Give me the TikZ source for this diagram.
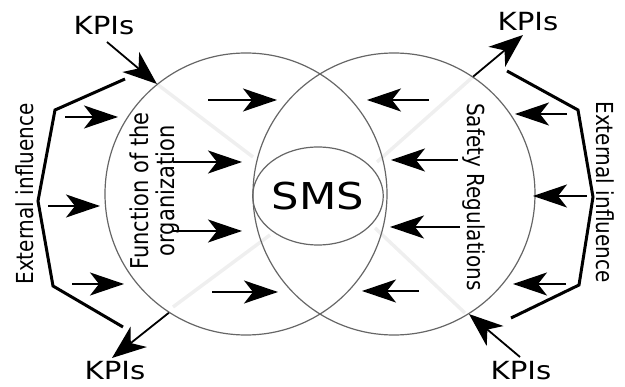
\documentclass[tikz,border=0pt]{standalone}
\usepackage{fontspec}
\setmainfont{DejaVu Sans}
\usetikzlibrary{arrows.meta,shapes.geometric,backgrounds}
\definecolor{ring}{HTML}{666666}
\definecolor{haze}{HTML}{EFEFEF}
\newcommand{\wide}[1]{\scalebox{1.17}[1]{#1}}
\newcommand{\tall}[1]{\scalebox{1}[1.17]{#1}}
\tikzset{
  circ/.style={circle, draw=ring, line width=1.2pt, minimum size=282pt, inner sep=0pt},
  core/.style={ellipse, draw=ring, line width=1.2pt, minimum width=130pt,
               minimum height=98pt, inner sep=0pt, font=\fontsize{37}{37}\selectfont},
  kpi/.style={font=\fontsize{25}{25}\selectfont, inner sep=0pt},
  side/.style={font=\fontsize{20}{20.5}\selectfont, inner sep=0pt},
  push/.style={-{Stealth[length=34pt,width=23pt,inset=9pt]}, line width=1.8pt},
  flow/.style={-{Stealth[length=34pt,width=26pt,inset=10pt]}, line width=1.8pt},
  brace/.style={line width=3pt},
  glow/.style={draw=haze, line width=3.5pt}
}

\begin{document}
\begin{tikzpicture}[x=1pt,y=-1pt]
\useasboundingbox (0,0) rectangle (625,387);

\node[circ] (org) at (246,194) {};
\node[circ] (reg) at (394,194) {};
\node[core] (sms) at (318,196) {\wide{SMS}};

% faint traces towards the core
\begin{scope}[on background layer]
\draw[glow] (org.129) -- (253,157);
\draw[glow] (reg.56) -- (377,162);
\draw[glow] (173,307) -- (270,235);
\draw[glow] (465,313) -- (375,228);
\end{scope}

\node[kpi] (kpitl) at (104,26) {\wide{KPIs}};
\node[kpi] (kpitr) at (528,22) {\wide{KPIs}};
\node[kpi] (kpibl) at (115,371) {\wide{KPIs}};
\node[kpi] (kpibr) at (521,371) {\wide{KPIs}};

\node[side, rotate=90] (extl) at (25,194) {\tall{External influence}};
\node[side, rotate=-90] (extr) at (605,192) {\tall{External influence}};
\node[side, rotate=90, font=\fontsize{21}{20.5}\selectfont] (func) at (156,191)
  {\tall{\begin{tabular}{@{}c@{}}Function of the\\organization\end{tabular}}};
\node[side, rotate=-90] (safe) at (474,197) {\tall{Safety Regulations}};

% KPI arrows
\coordinate (ktl) at (107,42);
\coordinate (ktr) at (523,35);
\coordinate (kbl) at (112,358);
\coordinate (kbr) at (520,357);
\draw[flow] (ktl) -- (org.129);
\draw[flow] (reg.56) -- (ktr);
\draw[flow] (org.237) -- (kbl);
\draw[flow] (kbr) -- (reg.302);

% influence arrows
\foreach \n/\a/\b/\y in {1/65/118/117, 2/208/277/100, 3/173/242/162, 4/48/100/206,
    5/173/242/231, 6/72/124/284, 7/212/278/292, 8/429/367/100, 9/458/391/160,
    10/567/515/114, 11/587/533/196, 12/460/390/227, 13/419/362/291, 14/566/513/284}{
  \coordinate (p\n) at (\a,\y);
  \coordinate (q\n) at (\b,\y);
  \draw[push] (p\n) -- (q\n);
}

\draw[brace] (125,79) -- (55,110) -- (38,201) -- (53,286) -- (123,327);
\draw[brace] (507,71) -- (578,110) -- (593,197) -- (579,285) -- (511,318);
\end{tikzpicture}
\end{document}
